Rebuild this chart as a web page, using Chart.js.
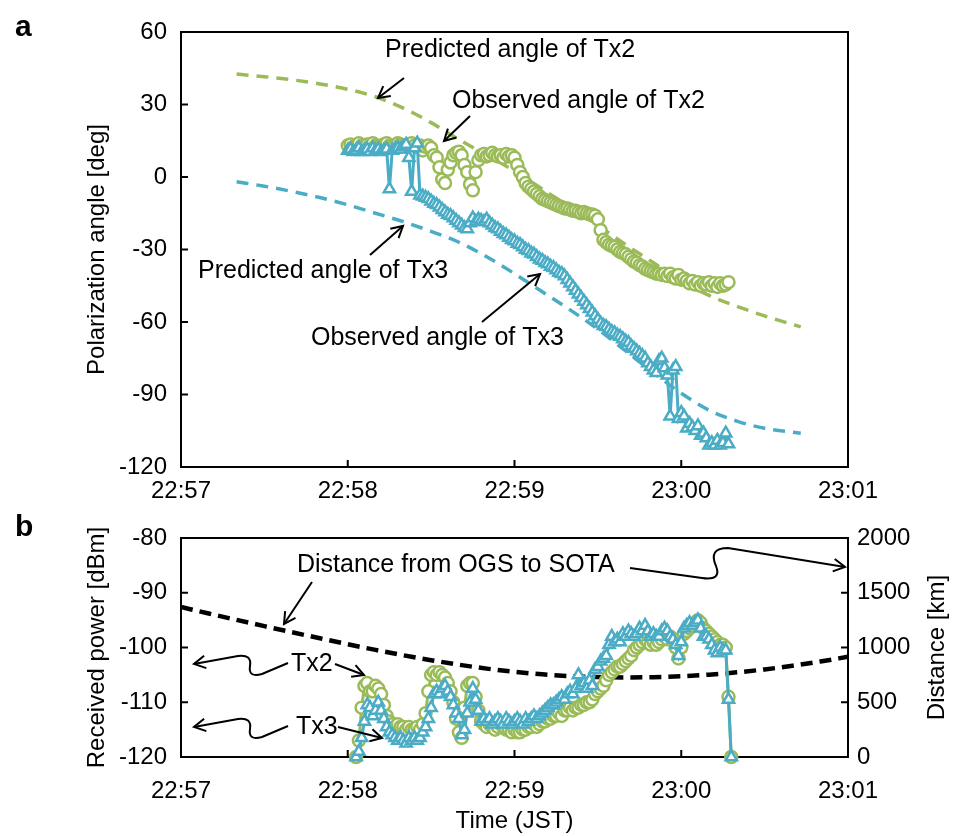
<!DOCTYPE html>
<html><head><meta charset="utf-8">
<script src="https://cdn.jsdelivr.net/npm/chart.js@4.4.1/dist/chart.umd.min.js"></script>
<style>
html,body{margin:0;padding:0;background:#fff;}
#wrap{position:relative;width:963px;height:836px;overflow:hidden;background:#fff;}
canvas{position:absolute;left:0;}
#ca{top:0;} #cb{top:500px;}
</style></head><body>
<div id="wrap"><canvas id="ca" width="963" height="500"></canvas><canvas id="cb" width="963" height="336"></canvas></div>
<script>
// ---------- data ----------
const timeLabels = ['22:57','22:58','22:59','23:00','23:01']; // ticks every 60 s from 22:57:00
const predTime = [20,30,40,50,60,70,80,90,100,110,120,130,140,150,160,170,180,190,200,210,223];
const predTx2  = [42.6,41.5,40.2,38.5,36.3,33.2,28.5,22.5,15.5,9,2.5,-5,-12.5,-20,-28,-35.5,-43,-49,-53.5,-57.5,-62];
const predTx3  = [-2,-3.8,-6,-8.5,-11.5,-15,-18.5,-22.5,-27,-33,-40,-47.5,-55,-63,-72,-81,-89.5,-96.5,-101,-104,-106];

const obsTimeA = [60,61,62,63,64,65,66,67,68,69,70,71,72,73,74,75,76,77,78,79,80,81,82,83,84,85,86,87,88,89,90,91,92,93,94,95,96,97,98,99,100,101,102,103,104,105,106,107,108,109,110,111,112,113,114,115,116,117,118,119,120,121,122,123,124,125,126,127,128,129,130,131,132,133,134,135,136,137,138,139,140,141,142,143,144,145,146,147,148,149,150,151,152,153,154,155,156,157,158,159,160,161,162,163,164,165,166,167,168,169,170,171,172,173,174,175,176,177,178,179,180,181,182,183,184,185,186,187,188,189,190,191,192,193,194,195,196,197];
const obsTx2A = [13,13.5,12.5,13,14,13,12.5,13.5,13,14,13,12.5,13,13.5,14,13,12.5,13,14,13.5,13,12.5,13.5,14,13,12.5,
 13,11,12.5,13,12,9,8,4,-1,-2.5,3,6,9,10,10.5,9,5,2,-3,-5.5,2,7,9,9.5,8.5,9,10,9,8.5,9,8,9.5,8.5,9,
 8,5,2,0,-2.5,-4,-5,-6,-7,-8,-9,-9.5,-10,-10.5,-11,-11.5,-12,-12.5,-13,-13,-13.5,-14,-14,-14.5,-15,-14.5,-15,-15.5,-15.5,-16,
 -17.5,-22,-26,-27,-28,-28.5,-29,-30,-31,-31.5,-32,-33,-34,-35,-35.5,-36.5,-37,-38,-38.5,-39,-39.5,-40,-40,-40.5,-40,-41,-40,-41.5,-42,-40.5,
 -42.5,-42,-43,-44,-43,-44.5,-43.5,-45,-44,-44.5,-43.5,-45,-44,-45.5,-44,-45,-44.5,-43.5];
const obsTx3A = [11,11.5,10.5,11,12,10.5,11,11.5,10.5,12,11,11.5,10.5,11,11.5,-5,11,11.5,12,11.5,12.5,13.5,8,-6,12,14,
 -7.5,-8,-8.5,-9,-10,-11,-11.5,-12.5,-13.5,-14.5,-15.5,-16,-17,-18,-19,-20,-21,-21.5,-19,-17,-18.5,-17.5,-18,-18.5,-17.5,-19,-20,-21,-21.5,-22.5,-23.5,-24,-25,-26,
 -26.5,-27.5,-28,-29,-30,-30.5,-31.5,-32,-33,-34,-34.5,-35.5,-36,-37,-37.5,-38.5,-39.5,-40,-41,-42.5,-44,-45.5,-47,-48.5,-50,-51.5,-53,-54.5,-56,-57.5,
 -59,-60.5,-61.5,-62,-63,-64,-64.5,-65.5,-66,-67,-68,-68.5,-70,-71,-72,-73,-74,-75,-77,-78.5,-80,-81,-76,-75,-79,-82,-99,-80,-78.5,-100,
 -97.5,-99,-104,-102,-103.5,-105,-103,-107,-106,-108,-111,-110,-111,-109,-111,-110,-106,-110.5];

const distTime = [0,10,20,30,40,50,60,70,80,90,100,110,120,130,140,150,160,170,180,190,200,210,220,230,240];
const distKm   = [1370,1310,1252,1195,1139,1084,1030,978,929,884,843,807,778,755,739,730,727,729,737,752,773,800,833,872,915];

const obsTimeB = [63,64,65,66,67,68,69,70,71,72,73,74,75,76,77,78,79,80,81,82,83,84,85,86,87,88,89,90,91,92,93,94,95,96,97,98,99,100,101,102,103,104,105,106,107,108,109,110,111,112,113,114,115,116,117,118,119,120,121,122,123,124,125,126,127,128,129,130,131,132,133,134,135,136,137,138,139,140,141,142,143,144,145,146,147,148,149,150,151,152,153,154,155,156,157,158,159,160,161,162,163,164,165,166,167,168,169,170,171,172,173,174,175,176,177,178,179,180,181,182,183,184,185,186,187,188,189,190,191,192,193,194,195,196,197,198];
const powTx2B = [-120,-117,-111,-107,-106.5,-108,-108,-107,-107.5,-108.5,-110.5,-112.5,-113.5,-114,-114.5,-114,-114.5,-114.5,-115,-114.5,-115,-115,-114.5,-115,-114,
 -112,-108,-105,-104.5,-105,-104.5,-105,-105.5,-106.5,-108,-110,-113,-115.5,-116.5,-111,-107,-106.5,-106.5,-109,-111.5,-113.5,-114,-114.5,-114,-114.5,
 -115,-114.5,-114,-114.5,-115,-115,-115.5,-115,-115.5,-115.5,-115,-115,-114.5,-114.5,-114,-114.5,-114,-113.5,-113.5,-113,-113,-112.5,-112.5,-112,-112.5,
 -111.5,-111.5,-111,-111.5,-111,-111,-110.5,-110.5,-110,-110,-109.5,-108.5,-108,-107.5,-107,-106,-105,-104.5,-104,-103.5,-103.5,-103,-102.5,-102,-101.5,
 -100.5,-100,-99.5,-99,-98.5,-99,-99.5,-99,-99.5,-99,-98.5,-98,-98.5,-98,-98.5,-100,-102,-100,-97.5,-97,-96.5,-96,-95.5,-95,-95.5,-96.5,-97,-97.5,-98,
 -98.5,-99,-99.5,-99.5,-100,-109,-120];
const powTx3B = [-120,-119,-116.5,-113.5,-110.5,-111,-112.5,-111.5,-110,-111.5,-113,-114.5,-115.5,-116,-116.5,-117,-116.5,-117,-117.5,-116.5,-117,-116.5,-117,-116.5,-115.5,
 -114.5,-113,-111,-108.5,-108,-108.5,-107.5,-107,-108,-109,-110.5,-112,-113,-116,-115,-112,-110,-107.5,-109.5,-111.5,-113.5,-113,-113.5,-113,-114,
 -113.5,-113,-113.5,-114,-113,-113.5,-114,-113.5,-113,-113.5,-114,-113,-113.5,-113,-112.5,-113,-112.5,-112,-111.5,-111,-110.5,-110.5,-110,-109.5,-109,
 -109.5,-108.5,-108,-108.5,-107.5,-105,-107,-106.5,-107.5,-106,-107,-104,-103.5,-102.5,-102,-101.5,-99.5,-98,-99,-98.5,-99,-97.5,-98,-97,-97.5,
 -98,-97.5,-96.5,-97,-96,-97,-98,-97.5,-98,-98,-97,-96.5,-97,-98,-98.5,-99.5,-101.5,-99,-96.5,-96,-95.5,-96,-95.5,-95,-96.5,-98,-98,-98.5,-99.5,
 -100.5,-101,-100,-100.5,-100.5,-109.5,-120];

// ---------- styling ----------
const FONT = "'Liberation Sans', Arial, Helvetica, sans-serif";
const GREEN = '#9BBB59';
const BLUE = '#4BACC6';
const pts = (xs, ys) => xs.map((x, i) => ({x: x, y: ys[i]}));

function arrowHead(ctx, x1, y1, x2, y2, len, ang) {
  len = len || 13; ang = ang || 0.5;
  const a = Math.atan2(y2 - y1, x2 - x1);
  ctx.beginPath();
  ctx.moveTo(x2 - len * Math.cos(a - ang), y2 - len * Math.sin(a - ang));
  ctx.lineTo(x2, y2);
  ctx.lineTo(x2 - len * Math.cos(a + ang), y2 - len * Math.sin(a + ang));
  ctx.stroke();
}
function arrow(ctx, x1, y1, x2, y2) {
  ctx.beginPath(); ctx.moveTo(x1, y1); ctx.lineTo(x2, y2); ctx.stroke();
  arrowHead(ctx, x1, y1, x2, y2);
}

const frameTicks = {
  id: 'frameTicks',
  beforeDatasetsDraw(chart) {
    const {ctx, chartArea: a} = chart;
    ctx.save();
    ctx.strokeStyle = '#000'; ctx.lineWidth = 2;
    ctx.strokeRect(a.left, a.top, a.right - a.left, a.bottom - a.top);
    const L = 7;
    Object.values(chart.scales).forEach(s => {
      s.ticks.forEach((t, i) => {
        const p = s.getPixelForTick(i);
        ctx.beginPath();
        if (s.position === 'bottom') { ctx.moveTo(p, a.bottom); ctx.lineTo(p, a.bottom - L); }
        else if (s.position === 'left') { ctx.moveTo(a.left, p); ctx.lineTo(a.left + L, p); }
        else if (s.position === 'right') { ctx.moveTo(a.right, p); ctx.lineTo(a.right - L, p); }
        ctx.stroke();
      });
    });
    ctx.restore();
  }
};

function makeAnnot(drawFn) {
  return {
    id: 'annot',
    afterDraw(chart) {
      const ctx = chart.ctx;
      ctx.save();
      ctx.strokeStyle = '#000'; ctx.fillStyle = '#000'; ctx.lineWidth = 2;
      ctx.textBaseline = 'middle'; ctx.textAlign = 'left';
      drawFn(ctx, chart);
      ctx.restore();
    }
  };
}

const tickFont = {family: FONT, size: 24};
const titleFont = {family: FONT, size: 24};

function xScale(height, pad, withTitle) {
  return {
    type: 'linear', position: 'bottom', min: 0, max: 240,
    grid: {display: false, drawTicks: false}, border: {display: false},
    ticks: {stepSize: 60, autoSkip: false, maxRotation: 0, padding: pad, color: '#000', font: tickFont,
            callback: v => timeLabels[Math.round(v / 60)]},
    title: {display: withTitle, text: 'Time (JST)', color: '#000', font: titleFont, padding: {top: 0, bottom: 0}},
    afterFit: s => { s.height = height; }
  };
}

const triStyle = (c) => ({showLine: true, borderColor: c, borderWidth: 3, pointStyle: 'triangle', pointRadius: 6.5,
  pointBorderWidth: 2.5, pointBorderColor: c, pointBackgroundColor: '#fff', clip: false});
const cirStyle = (c) => ({showLine: true, borderColor: c, borderWidth: 3, pointStyle: 'circle', pointRadius: 6,
  pointBorderWidth: 2.5, pointBorderColor: c, pointBackgroundColor: '#fff', clip: false});

// ---------- chart a ----------
new Chart(document.getElementById('ca'), {
  type: 'scatter',
  data: {datasets: [
    Object.assign({data: pts(obsTimeA, obsTx3A)}, triStyle(BLUE)),
    Object.assign({data: pts(obsTimeA, obsTx2A)}, cirStyle(GREEN)),
    {data: pts(predTime, predTx2), showLine: true, borderColor: GREEN, borderWidth: 3.5, borderDash: [12, 8],
     pointRadius: 0, cubicInterpolationMode: 'monotone'},
    {data: pts(predTime, predTx3), showLine: true, borderColor: BLUE, borderWidth: 3.5, borderDash: [12, 8],
     pointRadius: 0, cubicInterpolationMode: 'monotone'}
  ]},
  options: {
    responsive: false, animation: false, events: [],
    layout: {padding: {top: 32, right: 115, left: 0, bottom: 0}},
    plugins: {legend: {display: false}, tooltip: {enabled: false}},
    scales: {
      x: xScale(33, 10, false),
      y: {type: 'linear', position: 'left', min: -120, max: 60,
          grid: {display: false, drawTicks: false}, border: {display: false},
          ticks: {stepSize: 30, padding: 14, color: '#000', font: tickFont, callback: v => String(v)},
          title: {display: true, text: 'Polarization angle [deg]', color: '#000', font: titleFont, padding: {top: 83, bottom: 0}},
          afterFit: s => { s.width = 181; }}
    }
  },
  plugins: [frameTicks, makeAnnot(ctx => {
    ctx.font = 'bold 30px ' + FONT;
    ctx.fillText('a', 15, 28);
    ctx.font = '25px ' + FONT;
    ctx.fillText('Predicted angle of Tx2', 385, 50);
    arrow(ctx, 404, 78, 378, 98);
    ctx.fillText('Observed angle of Tx2', 452, 101);
    arrow(ctx, 470, 116, 444, 141);
    ctx.fillText('Predicted angle of Tx3', 198, 271);
    arrow(ctx, 370, 255, 403, 226);
    ctx.fillText('Observed angle of Tx3', 311, 338);
    arrow(ctx, 482, 322, 540, 274);
  })]
});

// ---------- chart b ----------
new Chart(document.getElementById('cb'), {
  type: 'scatter',
  data: {datasets: [
    Object.assign({data: pts(obsTimeB, powTx3B), yAxisID: 'y'}, triStyle(BLUE)),
    Object.assign({data: pts(obsTimeB, powTx2B), yAxisID: 'y'}, cirStyle(GREEN)),
    {data: pts(distTime, distKm), yAxisID: 'y1', showLine: true, borderColor: '#000', borderWidth: 4.5, borderDash: [12, 7],
     pointRadius: 0, cubicInterpolationMode: 'monotone'}
  ]},
  options: {
    responsive: false, animation: false, events: [],
    layout: {padding: {top: 38, right: 0, left: 0, bottom: 0}},
    plugins: {legend: {display: false}, tooltip: {enabled: false}},
    scales: {
      x: xScale(79, 20, true),
      y: {type: 'linear', position: 'left', min: -120, max: -80,
          grid: {display: false, drawTicks: false}, border: {display: false},
          ticks: {stepSize: 10, padding: 14, color: '#000', font: tickFont, callback: v => String(v)},
          title: {display: true, text: 'Received power [dBm]', color: '#000', font: titleFont, padding: {top: 83, bottom: 0}},
          afterFit: s => { s.width = 181; }},
      y1: {type: 'linear', position: 'right', min: 0, max: 2000,
          grid: {display: false, drawTicks: false}, border: {display: false},
          ticks: {stepSize: 500, padding: 9, color: '#000', font: tickFont, callback: v => String(v)},
          title: {display: false, text: 'Distance [km]'},
          afterFit: s => { s.width = 115; }}
    }
  },
  plugins: [frameTicks, makeAnnot((ctx, chart) => {
    const o = 500;
    // right axis title, rotated to read upward like the left titles
    const ca = chart.chartArea;
    ctx.save();
    ctx.font = '24px ' + FONT;
    ctx.translate(937, (ca.top + ca.bottom) / 2);
    ctx.rotate(-Math.PI / 2);
    ctx.textAlign = 'center';
    ctx.fillText(chart.options.scales.y1.title.text, 0, 0);
    ctx.restore();

    ctx.font = 'bold 30px ' + FONT;
    ctx.fillText('b', 15, 528 - o);
    ctx.font = '25px ' + FONT;
    ctx.fillText('Distance from OGS to SOTA', 297, 565 - o);
    arrow(ctx, 312, 582 - o, 284, 624 - o);
    // right squiggle arrow
    ctx.beginPath();
    ctx.moveTo(630, 568 - o);
    ctx.lineTo(702, 578 - o);
    ctx.quadraticCurveTo(722, 581 - o, 716, 566 - o);
    ctx.quadraticCurveTo(708, 548 - o, 728, 548 - o);
    ctx.lineTo(845, 567 - o);
    ctx.stroke();
    arrowHead(ctx, 728, 548 - o, 845, 567 - o);
    // Tx2 / Tx3 labels with squiggles
    [[664, 335, 364, 675], [727, 338, 382, 738]].forEach(([yc, ax1, ax2, ay2], k) => {
      const y = yc - o;
      ctx.fillText(k === 0 ? 'Tx2' : 'Tx3', k === 0 ? 291 : 296, y);
      arrow(ctx, ax1, y, ax2, ay2 - o);
      ctx.beginPath();
      ctx.moveTo(288, y - 1);
      ctx.lineTo(262, y + 10);
      ctx.quadraticCurveTo(248, y + 14, 250, y + 2);
      ctx.quadraticCurveTo(252, y - 10, 238, y - 8);
      ctx.lineTo(194, y);
      ctx.stroke();
      arrowHead(ctx, 238, y - 8, 194, y);
    });
  })]
});
</script>
</body></html>
